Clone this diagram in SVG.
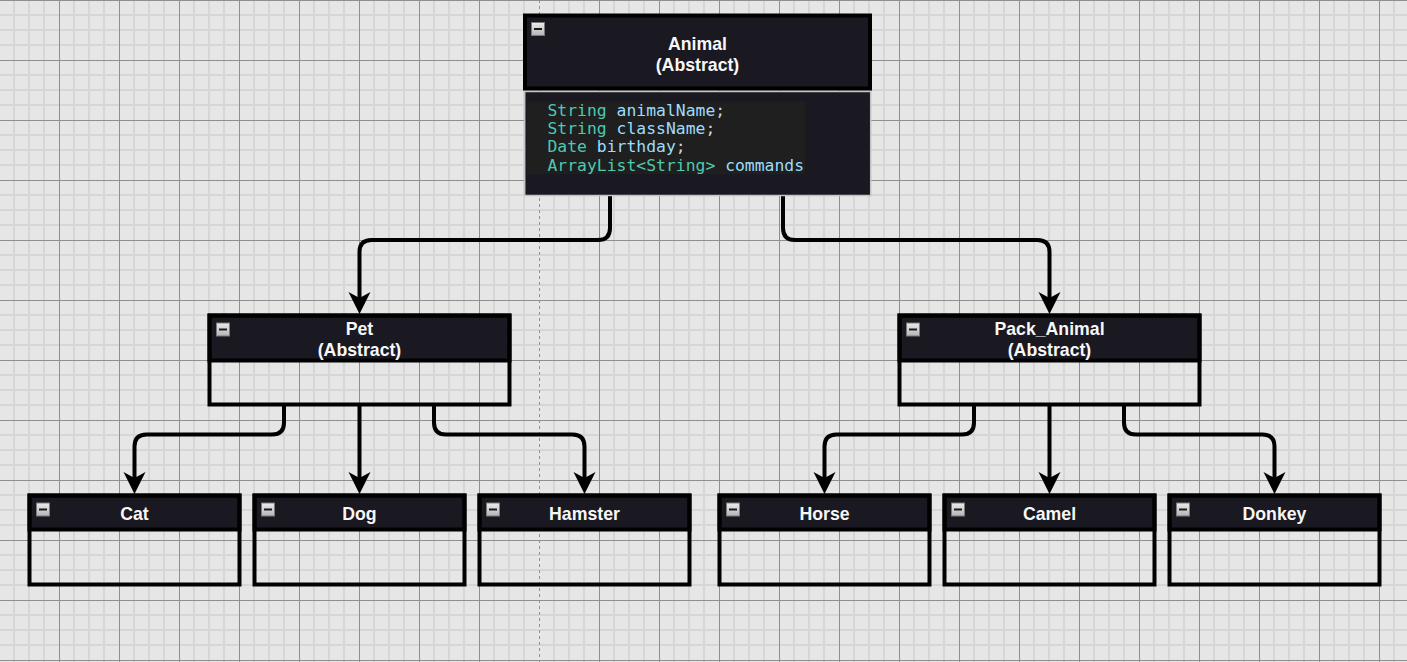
<svg xmlns="http://www.w3.org/2000/svg" width="1407" height="662" viewBox="0 0 1407 662">
<style>
.hdr{fill:#1a1821;stroke:#000;stroke-width:4}
.box{fill:none;stroke:#000;stroke-width:4}
.sep{stroke:#000;stroke-width:4}
.title{font-family:"Liberation Sans",Arial,sans-serif;font-weight:bold;font-size:17.7px;fill:#f7f7f7;text-anchor:middle}
.code{font-family:"DejaVu Sans Mono","Liberation Mono",monospace;font-size:16.4px}
.ty{fill:#4ec9b0}
.id{fill:#9cdcfe}
.pn{fill:#d4d4d4}
.edge{fill:none;stroke:#000;stroke-width:4;stroke-linejoin:round}
.ah{fill:#000}
.ico{fill:url(#icoG);stroke:#7a7a7a;stroke-width:1}
.icm{stroke:#1a1a1a;stroke-width:2}
</style>
<defs>
<pattern id="grid" width="60" height="60" patternUnits="userSpaceOnUse">
<rect width="60" height="60" fill="#e6e6e6"/>
<path d="M14,0V60M29,0V60M44,0V60M0,15H60M0,30H60M0,45H60" stroke="#d6d6d6" stroke-width="2"/>
<path d="M59.5,0V60M0,0.5H60" stroke="#8f8f8f" stroke-width="1"/>
</pattern>
<linearGradient id="icoG" x1="0" y1="0" x2="0" y2="1">
<stop offset="0" stop-color="#ececec"/>
<stop offset="1" stop-color="#b4b4b4"/>
</linearGradient>
<g id="icon">
<rect class="ico" x="0.5" y="0.5" width="13" height="13"/>
<path class="icm" d="M3,7H11"/>
</g>
</defs>

<rect width="1407" height="662" fill="url(#grid)"/>
<rect x="539" y="0" width="1" height="662" fill="#e6e6e6"/>
<path d="M539.5,0V662" stroke="#8f8f8f" stroke-width="1" stroke-dasharray="3,3"/>

<g id="connectors">
<path class="edge" d="M610,196V228Q610,240 598,240H371.5Q359.5,240 359.5,252V299"/>
<polygon class="ah" points="359.5,314 348.5,292 359.5,298 370.5,292"/>
<path class="edge" d="M783,196V228Q783,240 795,240H1037.5Q1049.5,240 1049.5,252V299"/>
<polygon class="ah" points="1049.5,314 1038.5,292 1049.5,298 1060.5,292"/>

<path class="edge" d="M284,405V422.5Q284,434.5 272,434.5H146.5Q134.5,434.5 134.5,446.5V479"/>
<polygon class="ah" points="134.5,494 123.5,472 134.5,478 145.5,472"/>
<path class="edge" d="M359.5,405V479"/>
<polygon class="ah" points="359.5,494 348.5,472 359.5,478 370.5,472"/>
<path class="edge" d="M434,405V422.5Q434,434.5 446,434.5H572.5Q584.5,434.5 584.5,446.5V479"/>
<polygon class="ah" points="584.5,494 573.5,472 584.5,478 595.5,472"/>

<path class="edge" d="M974,405V422.5Q974,434.5 962,434.5H836.5Q824.5,434.5 824.5,446.5V479"/>
<polygon class="ah" points="824.5,494 813.5,472 824.5,478 835.5,472"/>
<path class="edge" d="M1049.5,405V479"/>
<polygon class="ah" points="1049.5,494 1038.5,472 1049.5,478 1060.5,472"/>
<path class="edge" d="M1124,405V422.5Q1124,434.5 1136,434.5H1262.5Q1274.5,434.5 1274.5,446.5V479"/>
<polygon class="ah" points="1274.5,494 1263.5,472 1274.5,478 1285.5,472"/>
</g>

<g id="node-animal">
<rect x="524.7" y="91.5" width="346" height="104" fill="#1a1821" stroke="#c4c4c4" stroke-width="1.5"/>
<rect class="hdr" x="525" y="15.5" width="345" height="73"/>
<use href="#icon" x="531" y="22"/>
<text class="title" x="697.5" y="50">Animal</text>
<text class="title" x="697.5" y="71">(Abstract)</text>
<rect x="527" y="101.5" width="278" height="72.5" fill="#1f1f1f"/>
<text class="code" x="547.5" y="116"><tspan class="ty">String</tspan><tspan class="id"> animalName</tspan><tspan class="pn">;</tspan></text>
<text class="code" x="547.5" y="134.2"><tspan class="ty">String</tspan><tspan class="id"> className</tspan><tspan class="pn">;</tspan></text>
<text class="code" x="547.5" y="152.4"><tspan class="ty">Date</tspan><tspan class="id"> birthday</tspan><tspan class="pn">;</tspan></text>
<text class="code" x="547.5" y="170.6"><tspan class="ty">ArrayList&lt;String&gt;</tspan><tspan class="id"> commands</tspan></text>
</g>

<g id="node-pet">
<rect class="hdr" x="209.5" y="315.5" width="300" height="45"/>
<rect class="box" x="209.5" y="315.5" width="300" height="89"/>
<use href="#icon" x="216" y="322.5"/>
<text class="title" x="359.5" y="335">Pet</text>
<text class="title" x="359.5" y="356">(Abstract)</text>
</g>

<g id="node-pack-animal">
<rect class="hdr" x="899.5" y="315.5" width="300" height="45"/>
<rect class="box" x="899.5" y="315.5" width="300" height="89"/>
<use href="#icon" x="906" y="322.5"/>
<text class="title" x="1049.5" y="335">Pack_Animal</text>
<text class="title" x="1049.5" y="356">(Abstract)</text>
</g>

<g id="node-cat">
<rect class="hdr" x="29.5" y="495.5" width="210" height="34"/>
<rect class="box" x="29.5" y="495.5" width="210" height="89"/>
<use href="#icon" x="36" y="502.5"/>
<text class="title" x="134.5" y="519.5">Cat</text>
</g>

<g id="node-dog">
<rect class="hdr" x="254.5" y="495.5" width="210" height="34"/>
<rect class="box" x="254.5" y="495.5" width="210" height="89"/>
<use href="#icon" x="261" y="502.5"/>
<text class="title" x="359.5" y="519.5">Dog</text>
</g>

<g id="node-hamster">
<rect class="hdr" x="479.5" y="495.5" width="210" height="34"/>
<rect class="box" x="479.5" y="495.5" width="210" height="89"/>
<use href="#icon" x="486" y="502.5"/>
<text class="title" x="584.5" y="519.5">Hamster</text>
</g>

<g id="node-horse">
<rect class="hdr" x="719.5" y="495.5" width="210" height="34"/>
<rect class="box" x="719.5" y="495.5" width="210" height="89"/>
<use href="#icon" x="726" y="502.5"/>
<text class="title" x="824.5" y="519.5">Horse</text>
</g>

<g id="node-camel">
<rect class="hdr" x="944.5" y="495.5" width="210" height="34"/>
<rect class="box" x="944.5" y="495.5" width="210" height="89"/>
<use href="#icon" x="951" y="502.5"/>
<text class="title" x="1049.5" y="519.5">Camel</text>
</g>

<g id="node-donkey">
<rect class="hdr" x="1169.5" y="495.5" width="210" height="34"/>
<rect class="box" x="1169.5" y="495.5" width="210" height="89"/>
<use href="#icon" x="1176" y="502.5"/>
<text class="title" x="1274.5" y="519.5">Donkey</text>
</g>
</svg>
